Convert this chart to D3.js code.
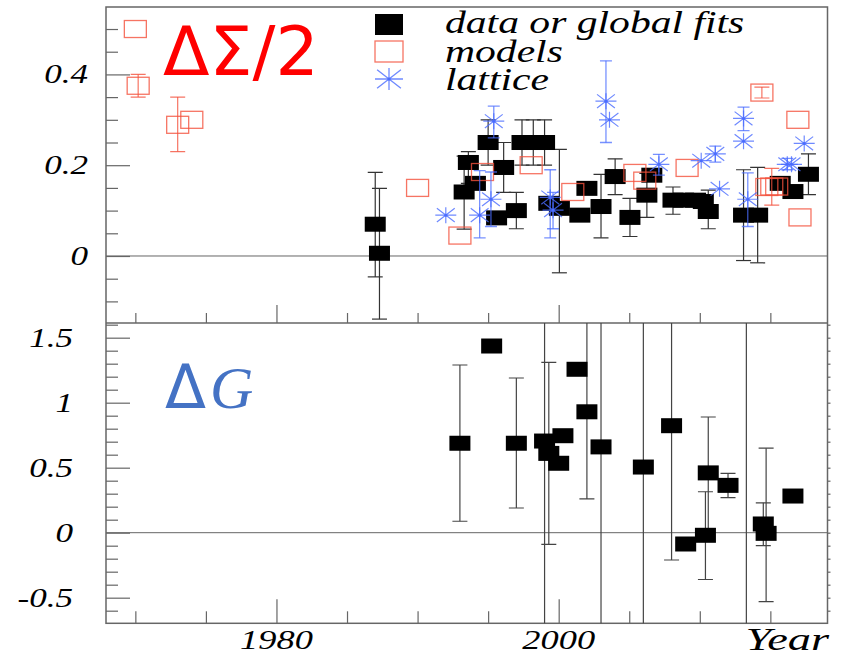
<!DOCTYPE html>
<html>
<head>
<meta charset="utf-8">
<script src="https://cdn.jsdelivr.net/npm/d3@7"></script>
<style>
  body { margin: 0; background: #fff; }
  text { font-family: "Liberation Serif", "Times New Roman", serif; font-style: italic; }
</style>
</head>
<body>
<div id="chart"></div>
<script>
// [year, value, errLow, errHigh]  (null = no error bar)
const sigmaData = [
  [1987.0, 0.07, -0.046, 0.184], [1987.3, 0.006, -0.139, 0.149],
  [1993.3, 0.141, 0.059, 0.22], [1993.6, 0.206, 0.16, 0.23], [1994.1, 0.16, null, null],
  [1995.0, 0.25, 0.20, 0.30], [1995.6, 0.084, null, null], [1996.1, 0.195, 0.14, 0.25],
  [1997.0, 0.10, 0.06, 0.14], [1997.4, 0.25, 0.20, 0.30], [1998.2, 0.25, 0.20, 0.30],
  [1999.0, 0.25, 0.20, 0.30], [1999.3, 0.116, null, null], [2000.05, 0.105, -0.037, 0.235],
  [2001.5, 0.09, null, null], [2002.0, 0.149, null, null], [2003.0, 0.109, 0.04, 0.18],
  [2004.0, 0.175, 0.135, 0.214], [2005.05, 0.085, 0.043, 0.127], [2006.25, 0.134, 0.085, 0.182],
  [2006.6, 0.178, null, null], [2008.1, 0.123, 0.092, 0.152], [2008.85, 0.123, null, null],
  [2009.7, 0.123, null, null], [2010.25, 0.12, null, null], [2010.6, 0.098, 0.06, 0.145],
  [2013.1, 0.09, -0.01, 0.19], [2014.1, 0.09, -0.015, 0.195], [2015.7, 0.16, null, null],
  [2016.6, 0.142, null, null], [2017.7, 0.18, 0.135, 0.225]
];

const sigmaModels = [
  [1970.0, 0.50, null, null], [1970.2, 0.375, 0.35, 0.40], [1973.0, 0.289, 0.23, 0.35],
  [1974.0, 0.30, null, null], [1990.0, 0.15, null, null], [1993.0, 0.045, null, null],
  [1994.6, 0.185, null, null], [1998.05, 0.20, null, null], [2001.0, 0.141, null, null],
  [2005.4, 0.183, null, null], [2006.1, 0.166, null, null], [2009.1, 0.194, null, null],
  [2014.4, 0.36, 0.348, 0.372], [2014.75, 0.152, null, null], [2015.1, 0.153, 0.112, 0.193],
  [2015.45, 0.153, null, null], [2016.95, 0.30, null, null], [2017.1, 0.085, null, null]
];

const sigmaLattice = [
  [1992.0, 0.09, null, null], [1994.4, 0.09, 0.04, 0.188], [1995.2, 0.125, 0.065, 0.185],
  [1995.4, 0.297, 0.26, 0.33], [1999.4, 0.129, 0.04, 0.19], [1999.6, 0.101, 0.06, 0.14],
  [2003.35, 0.341, 0.25, 0.43], [2003.6, 0.30, null, null], [2007.1, 0.202, 0.178, 0.224],
  [2010.1, 0.21, null, null], [2011.1, 0.225, 0.207, 0.242], [2011.4, 0.148, null, null],
  [2013.1, 0.303, 0.276, 0.328], [2013.1, 0.253, null, null], [2013.4, 0.125, 0.065, 0.183],
  [2016.2, 0.202, 0.19, 0.215], [2016.5, 0.202, null, null], [2017.4, 0.248, null, null]
];

const gluonData = [
  [1993.0, 0.688, 0.088, 1.29], [1995.25, 1.436, null, null], [1997.0, 0.688, 0.19, 1.19],
  [1999.0, 0.705, -3, 4], [1999.3, 0.61, -0.09, 1.31], [2000.0, 0.534, null, null],
  [2000.3, 0.746, null, null], [2001.3, 1.257, null, null], [2002.0, 0.93, 0.26, 3],
  [2003.0, 0.66, -3, 4], [2006.0, 0.505, -3, 4], [2008.0, 0.823, -0.21, 3],
  [2009.0, -0.087, null, null], [2010.4, -0.02, -0.36, 0.315], [2010.6, 0.46, 0.03, 0.89],
  [2012.0, 0.364, 0.27, 0.457], [2013.3, 2.4, -3, 8], [2014.5, 0.067, -0.1, 0.23],
  [2014.7, -0.005, -0.53, 0.65], [2016.6, 0.282, null, null]
];

const legendLabels = ["data or global fits", "models", "lattice"];
const xTickLabels = [1980, 2000];
const topTickLabels = [0, 0.2, 0.4];
const botTickLabels = [-0.5, 0, 0.5, 1, 1.5];

const W = 841, H = 659;
const left = 106, right = 827.5;
const topY0 = 7, midY = 323, botY1 = 623.3;

const red = "#f4513c", blue = "#4a6cff", axisCol = "#666";

const svg = d3.select("#chart").append("svg")
  .attr("width", W).attr("height", H);

const x = d3.scaleLinear().domain([1967.92, 2019.05]).range([left, right]);
const yTop = d3.scaleLinear().domain([-0.1476, 0.5485]).range([midY, topY0]);
const yBot = d3.scaleLinear().domain([-0.697, 1.613]).range([botY1, midY]);

// clip areas for each panel
const defs = svg.append("defs");
defs.append("clipPath").attr("id", "clipTop").append("rect")
  .attr("x", left).attr("y", topY0).attr("width", right - left).attr("height", midY - topY0);
defs.append("clipPath").attr("id", "clipBot").append("rect")
  .attr("x", left).attr("y", midY).attr("width", right - left).attr("height", botY1 - midY);

// zero lines
[[yTop, "clipTop"], [yBot, "clipBot"]].forEach(([y]) => {
  svg.append("line")
    .attr("x1", left).attr("x2", right)
    .attr("y1", y(0)).attr("y2", y(0))
    .attr("stroke", axisCol).attr("stroke-width", 1);
});

// ticks
function tickAxis(axis, pos, vals, size) {
  const g = svg.append("g")
    .attr("transform", pos)
    .call(axis.tickValues(vals).tickSize(size).tickSizeOuter(0).tickFormat(""));
  g.select(".domain").remove();
  g.selectAll("line").attr("stroke", axisCol).attr("stroke-width", 1.2);
}
const xMinor = d3.range(1970, 2020, 5).filter(v => !xTickLabels.includes(v));
tickAxis(d3.axisTop(x), `translate(0,${midY})`, xMinor, 10);
tickAxis(d3.axisTop(x), `translate(0,${midY})`, xTickLabels, 18);
tickAxis(d3.axisTop(x), `translate(0,${botY1})`, xMinor, 12);
tickAxis(d3.axisTop(x), `translate(0,${botY1})`, xTickLabels, 24);

const topMinor = d3.range(-0.1, 0.52, 0.05).map(v => +v.toFixed(2)).filter(v => !topTickLabels.includes(v));
tickAxis(d3.axisRight(yTop), `translate(${left},0)`, topMinor, 12);
tickAxis(d3.axisRight(yTop), `translate(${left},0)`, topTickLabels, 24);

const botMinor = d3.range(-0.6, 1.61, 0.1).map(v => +v.toFixed(1)).filter(v => !botTickLabels.includes(v));
tickAxis(d3.axisRight(yBot), `translate(${left},0)`, botMinor, 12);
tickAxis(d3.axisRight(yBot), `translate(${left},0)`, botTickLabels, 24);
tickAxis(d3.axisRight(yBot), `translate(${right},0)`, d3.range(-0.6, 1.61, 0.1), 3);

// frame
svg.append("rect")
  .attr("x", left).attr("y", topY0)
  .attr("width", right - left).attr("height", botY1 - topY0)
  .attr("fill", "none").attr("stroke", axisCol).attr("stroke-width", 1.5);
svg.append("line")
  .attr("x1", left).attr("x2", right).attr("y1", midY).attr("y2", midY)
  .attr("stroke", axisCol).attr("stroke-width", 1.5);

// tick labels (stretched italic serif)
svg.selectAll(".ylabTop").data(topTickLabels).join("text")
  .attr("transform", d => `translate(88,${yTop(d) + 9}) scale(1.3,1)`)
  .attr("text-anchor", "end").attr("font-size", 27)
  .text(d => d);
svg.selectAll(".ylabBot").data(botTickLabels).join("text")
  .attr("transform", d => `translate(73,${yBot(d) + 9}) scale(1.3,1)`)
  .attr("text-anchor", "end").attr("font-size", 27)
  .text(d => d);
svg.selectAll(".xlab").data(xTickLabels).join("text")
  .attr("transform", d => `translate(${x(d)},649) scale(1.3,1)`)
  .attr("text-anchor", "middle").attr("font-size", 28)
  .text(d => d);
svg.append("text")
  .attr("transform", "translate(829,650) scale(1.45,1)")
  .attr("text-anchor", "end").attr("font-size", 32)
  .text("Year");

// marker helpers
function starPath(cx, cy, w, h) {
  const a = w / 2, b = h / 2, da = a * 0.85, db = b * 0.85;
  return `M${cx - a},${cy}L${cx + a},${cy}M${cx},${cy - b}L${cx},${cy + b}` +
    `M${cx - da},${cy - db}L${cx + da},${cy + db}M${cx - da},${cy + db}L${cx + da},${cy - db}`;
}

function errorBars(g, data, y, color, capW, width, opacity) {
  const withErr = data.filter(d => d[2] != null);
  const [lo, hi] = y.domain();
  g.append("g").selectAll("line").data(withErr).join("line")
    .attr("x1", d => x(d[0])).attr("x2", d => x(d[0]))
    .attr("y1", d => y(d[2])).attr("y2", d => y(d[3]))
    .attr("stroke", color).attr("stroke-width", width).attr("stroke-opacity", opacity);
  const caps = withErr.flatMap(d => [[d[0], d[2]], [d[0], d[3]]]).filter(c => c[1] >= lo && c[1] <= hi);
  g.append("g").selectAll("line").data(caps).join("line")
    .attr("x1", d => x(d[0]) - capW / 2).attr("x2", d => x(d[0]) + capW / 2)
    .attr("y1", d => y(d[1])).attr("y2", d => y(d[1]))
    .attr("stroke", color).attr("stroke-width", width).attr("stroke-opacity", opacity);
}

function blackSquares(g, data, y) {
  g.append("g").selectAll("rect").data(data).join("rect")
    .attr("x", d => x(d[0]) - 10.5).attr("y", d => y(d[1]) - 7.5)
    .attr("width", 21).attr("height", 15)
    .attr("fill", "#000");
}

// top panel: ΔΣ/2
const gTop = svg.append("g").attr("clip-path", "url(#clipTop)");
errorBars(gTop, sigmaData, yTop, "#333", 15, 1.2, 1);
blackSquares(gTop, sigmaData, yTop);
errorBars(gTop, sigmaModels, yTop, red, 15, 1.2, 0.8);
gTop.append("g").selectAll("rect").data(sigmaModels).join("rect")
  .attr("x", d => x(d[0]) - 11).attr("y", d => yTop(d[1]) - 8.5)
  .attr("width", 22).attr("height", 17)
  .attr("fill", "none").attr("stroke", red).attr("stroke-width", 1.3).attr("stroke-opacity", 0.8);
errorBars(gTop, sigmaLattice, yTop, blue, 12, 1.3, 0.75);
gTop.append("g").selectAll("path").data(sigmaLattice).join("path")
  .attr("d", d => starPath(x(d[0]), yTop(d[1]), 21, 16))
  .attr("fill", "none").attr("stroke", blue).attr("stroke-width", 1.2).attr("stroke-opacity", 0.8);
gTop.append("g").selectAll("circle").data(sigmaLattice).join("circle")
  .attr("cx", d => x(d[0])).attr("cy", d => yTop(d[1])).attr("r", 1.5)
  .attr("fill", blue);

// bottom panel: ΔG
const gBot = svg.append("g").attr("clip-path", "url(#clipBot)");
errorBars(gBot, gluonData, yBot, "#444", 15, 1.2, 1);
blackSquares(gBot, gluonData, yBot);

// legend
const legend = svg.append("g");
legend.append("rect").attr("x", 375).attr("y", 14).attr("width", 28).attr("height", 21).attr("fill", "#000");
legend.append("rect").attr("x", 375).attr("y", 41).attr("width", 28).attr("height", 21)
  .attr("fill", "none").attr("stroke", red).attr("stroke-width", 1.3).attr("stroke-opacity", 0.8);
legend.append("path").attr("d", starPath(389, 79, 28, 22))
  .attr("fill", "none").attr("stroke", blue).attr("stroke-width", 1.3).attr("stroke-opacity", 0.8);
legend.append("circle").attr("cx", 389).attr("cy", 79).attr("r", 1.6).attr("fill", blue);
legend.selectAll("text").data(legendLabels).join("text")
  .attr("transform", (d, i) => `translate(445,${33 + i * 28.5}) scale(1.3,1)`)
  .attr("font-size", 32)
  .text(d => d);

// panel titles
svg.append("text")
  .attr("x", 163).attr("y", 75)
  .style("font-family", "'DejaVu Sans', sans-serif").style("font-style", "normal")
  .attr("font-size", 68).attr("fill", "#ff0000")
  .text("ΔΣ/2");
const dg = svg.append("text")
  .attr("x", 165).attr("y", 408)
  .attr("font-size", 60).attr("fill", "#4472c4");
dg.append("tspan").style("font-family", "'DejaVu Sans', sans-serif").style("font-style", "normal").text("Δ");
dg.append("tspan").attr("dx", 4).text("G");
</script>
</body>
</html>
